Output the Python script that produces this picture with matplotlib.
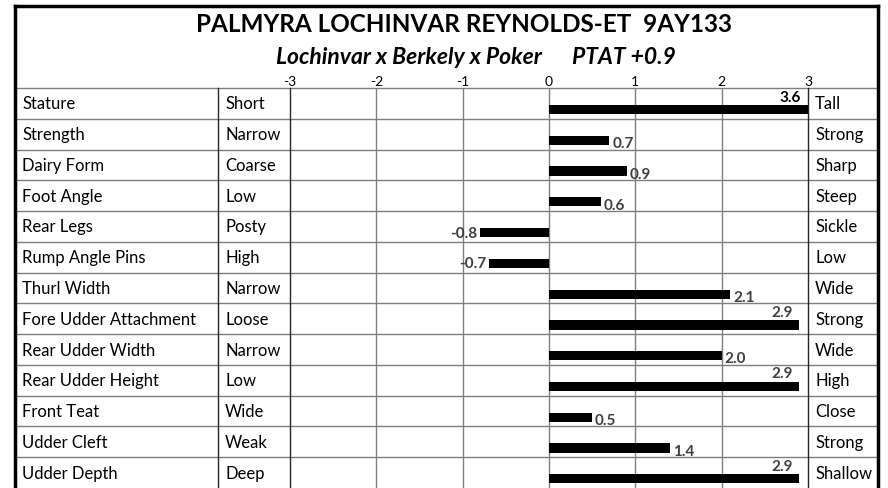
import matplotlib
matplotlib.use("Agg")
import matplotlib.pyplot as plt
import numpy as np

plt.rcParams["font.family"] = ["Lato", "DejaVu Sans"]

traits = ["Stature", "Strength", "Dairy Form", "Foot Angle", "Rear Legs",
          "Rump Angle Pins", "Thurl Width", "Fore Udder Attachment",
          "Rear Udder Width", "Rear Udder Height", "Front Teat",
          "Udder Cleft", "Udder Depth"]
low_desc = ["Short", "Narrow", "Coarse", "Low", "Posty", "High", "Narrow",
            "Loose", "Narrow", "Low", "Wide", "Weak", "Deep"]
high_desc = ["Tall", "Strong", "Sharp", "Steep", "Sickle", "Low", "Wide",
             "Strong", "Wide", "High", "Close", "Strong", "Shallow"]
valores = [3.6, 0.7, 0.9, 0.6, -0.8, -0.7, 2.1, 2.9, 2.0, 2.9, 0.5, 1.4, 2.9]
escala = [-3, -2, -1, 0, 1, 2, 3]

titulo = "PALMYRA LOCHINVAR REYNOLDS-ET  9AY133"
subtitulo = "Lochinvar x Berkely x Poker"
ptat = "PTAT +0.9"

# layout in pixels
W, H = 888, 489
X_IZQ, X_DER = 15, 878
X_COL1, X_COL2, X_COL3 = 218, 290, 808
Y_TOP, Y_FILAS = 6.5, 89
n = len(traits)
alto_fila = (H - Y_FILAS) / n

fig = plt.figure(figsize=(W / 100, H / 100), dpi=100)
marco = fig.add_axes([0, 0, 1, 1])
marco.set_xlim(0, W)
marco.set_ylim(H, 0)
marco.axis("off")

# row lines
for k in range(n):
    y = Y_FILAS + k * alto_fila
    marco.plot([X_IZQ, X_DER], [y, y], color="#7f7f7f", lw=1, zorder=1)
# column lines
for x in (X_COL1, X_COL2, X_COL3):
    marco.plot([x, x], [Y_FILAS, H], color="#262626", lw=1, zorder=2)
# outer box
marco.plot([X_IZQ, X_IZQ], [Y_TOP, H], color="black", lw=2.5)
marco.plot([X_DER, X_DER], [Y_TOP, H], color="black", lw=2.5)
marco.plot([X_IZQ, X_DER], [Y_TOP, Y_TOP], color="black", lw=2.5)

marco.text(464, 25, titulo, ha="center", va="center", fontsize=17.5,
           fontweight="bold")
marco.text(542, 58, subtitulo, ha="right", va="center", fontsize=16.5,
           fontweight="bold", style="italic")
marco.text(572, 58, ptat, ha="left", va="center", fontsize=16.5,
           fontweight="bold", style="italic")

for i in range(n):
    yc = Y_FILAS + (i + 0.5) * alto_fila
    marco.text(22, yc, traits[i], ha="left", va="center", fontsize=12)
    marco.text(225, yc, low_desc[i], ha="left", va="center", fontsize=12)
    marco.text(815, yc, high_desc[i], ha="left", va="center", fontsize=12)

# bar area
ax = fig.add_axes([X_COL2 / W, 0, (X_COL3 - X_COL2) / W, (H - Y_FILAS) / H])
ax.patch.set_alpha(0)
ax.set_xlim(-3, 3)
ax.set_ylim(n - 0.5, -0.5)
ax.set_xticks(escala)
ax.set_xticklabels([str(v) for v in escala])
ax.xaxis.tick_top()
ax.tick_params(axis="x", length=0, pad=0.5, labelsize=10)
ax.set_yticks([])
for s in ax.spines.values():
    s.set_visible(False)
for v in escala[1:-1]:
    ax.axvline(v, color="#7f7f7f", lw=1, zorder=1)

pos = np.arange(n)
ax.barh(pos + 0.2, valores, height=0.3, color="black", zorder=3)

xmax = ax.get_xlim()[1]
for i, v in enumerate(valores):
    fin = min(v, xmax)
    color = "black" if v > xmax else "#404040"
    if fin >= 2.5:
        ax.annotate(f"{v:.1f}", (fin, i + 0.05), xytext=(-5, 1),
                    textcoords="offset points", ha="right", va="bottom",
                    fontsize=11, fontweight="bold", color=color)
    elif v > 0:
        ax.annotate(f"{v:.1f}", (fin, i + 0.2), xytext=(2, -2),
                    textcoords="offset points", ha="left", va="center",
                    fontsize=11, fontweight="bold", color=color)
    else:
        ax.annotate(f"{v:.1f}", (fin, i + 0.2), xytext=(-2, 0),
                    textcoords="offset points", ha="right", va="center",
                    fontsize=11, fontweight="bold", color=color)

fig.savefig("out.png", dpi=100)
